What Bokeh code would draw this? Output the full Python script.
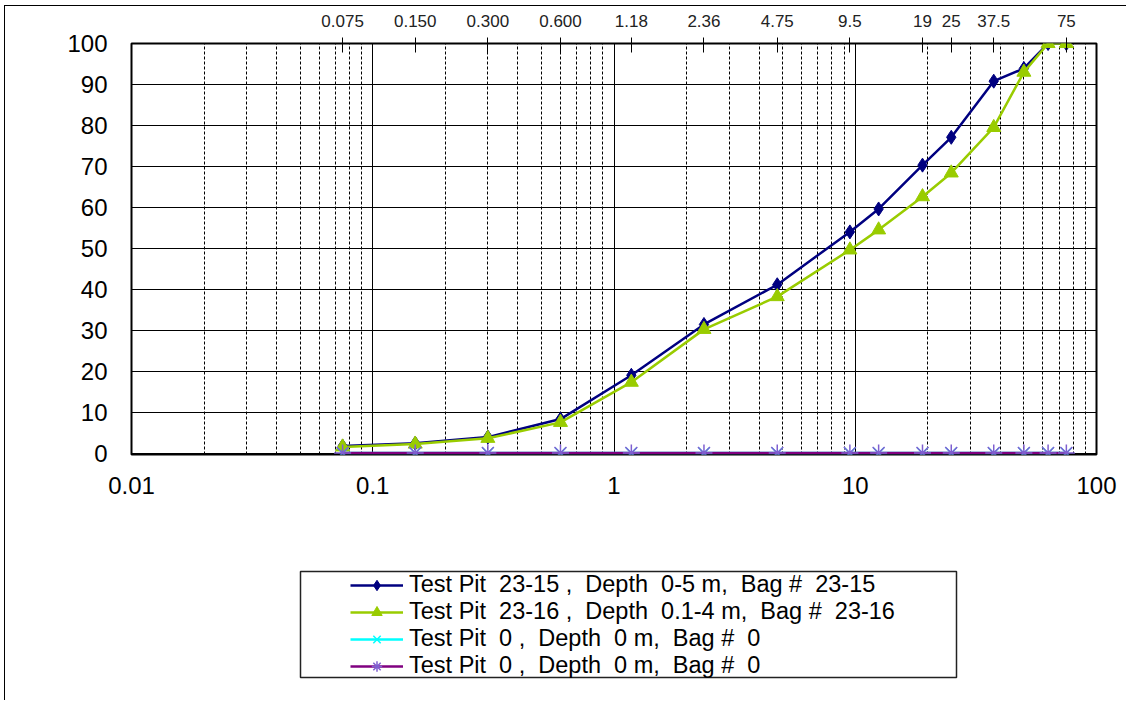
from bokeh.plotting import figure
from bokeh.layouts import column
from bokeh.models import (LogAxis, FixedTicker, Range1d, Legend, LegendItem,
                          CustomJSTickFormatter, BoxAnnotation)
from bokeh.embed import file_html
from bokeh.resources import INLINE

# ---- data -------------------------------------------------------------
sizes = [0.075, 0.15, 0.3, 0.6, 1.18, 2.36, 4.75, 9.5, 12.5, 19, 25, 37.5, 50, 63, 75]
tp_23_15 = [1.7, 2.4, 3.9, 8.3, 19.0, 31.4, 41.1, 54.0, 59.6, 70.3, 77.1, 90.8, 93.9, 100, 100]
tp_23_16 = [1.5, 2.2, 3.6, 7.5, 17.3, 30.2, 38.2, 49.6, 54.5, 62.6, 68.4, 79.5, 93.0, 100, 100]
tp_0_a = [0, 0, 0, 0, 0, 0, 0, 0, 0, 0, 0, 0, 0, 0, 0]
tp_0_b = [0, 0, 0, 0, 0, 0, 0, 0, 0, 0, 0, 0, 0, 0, 0]

series_labels = [
    "Test Pit  23-15 ,  Depth  0-5 m,  Bag #  23-15",
    "Test Pit  23-16 ,  Depth  0.1-4 m,  Bag #  23-16",
    "Test Pit  0 ,  Depth  0 m,  Bag #  0",
    "Test Pit  0 ,  Depth  0 m,  Bag #  0",
]
series_colors = ["#000080", "#99CC00", "#00FFFF", "#800080"]
marker_colors = ["#000080", "#99CC00", "#00FFFF", "#7F5FD0"]
series_markers = ["diamond", "triangle", "x", "asterisk"]

top_ticks = [0.075, 0.15, 0.3, 0.6, 1.18, 2.36, 4.75, 9.5, 19, 25, 37.5, 75]
top_tick_labels = ["0.075", "0.150", "0.300", "0.600", "1.18", "2.36", "4.75",
                   "9.5", "19", "25", "37.5", "75"]
bottom_ticks = [0.01, 0.1, 1, 10, 100]
bottom_tick_labels = ["0.01", "0.1", "1", "10", "100"]
y_ticks = [0, 10, 20, 30, 40, 50, 60, 70, 80, 90, 100]

FONT = "Liberation Sans"
series_values = [tp_23_15, tp_23_16, tp_0_a, tp_0_b]
marker_sizes = [14, 14, 15, 17]

# ---- main chart -------------------------------------------------------------
W = 1121
H1 = 554
BL, BR = 126, 30
p = figure(width=W, height=H1, x_axis_type="log",
           x_range=Range1d(0.01, 100), y_range=Range1d(-0.35, 100),
           output_backend="svg", toolbar_location=None,
           min_border_left=BL, min_border_right=BR,
           min_border_top=37, min_border_bottom=106)
p.background_fill_color = "white"
p.border_fill_color = "white"
p.outline_line_color = "black"
p.outline_line_width = 2

minor = []
for d in [0.01, 0.1, 1, 10]:
    for k in range(2, 10):
        minor.append(d * k)

lookup_code = """
for (let i = 0; i < vals.length; i++) {
  if (Math.abs(Math.log(vals[i]) - Math.log(tick)) < 1e-6) return labs[i];
}
return '';
"""

xa = p.below[0]
xa.ticker = FixedTicker(ticks=bottom_ticks, minor_ticks=minor)
xa.formatter = CustomJSTickFormatter(args=dict(vals=bottom_ticks, labs=bottom_tick_labels),
                                     code=lookup_code)
xa.major_tick_out = 0
xa.major_tick_in = 0
xa.minor_tick_out = 0
xa.minor_tick_in = 0
xa.axis_line_color = None
xa.major_label_standoff = 22
xa.major_label_text_font = FONT
xa.major_label_text_font_size = "24px"
xa.major_label_text_color = "black"

ya = p.left[0]
ya.ticker = FixedTicker(ticks=y_ticks)
ya.major_tick_out = 0
ya.major_tick_in = 0
ya.minor_tick_out = 0
ya.minor_tick_in = 0
ya.axis_line_color = None
ya.major_label_standoff = 24
ya.major_label_text_font = FONT
ya.major_label_text_font_size = "24px"
ya.major_label_text_color = "black"

ta = LogAxis(ticker=FixedTicker(ticks=top_ticks),
             formatter=CustomJSTickFormatter(args=dict(vals=top_ticks, labs=top_tick_labels),
                                             code=lookup_code))
ta.axis_line_color = None
ta.major_tick_out = 6
ta.major_tick_in = 9
ta.major_tick_line_color = "black"
ta.minor_tick_out = 0
ta.minor_tick_in = 0
ta.major_label_standoff = 11
ta.major_label_text_font = FONT
ta.major_label_text_font_size = "17px"
ta.major_label_text_color = "#222222"
p.add_layout(ta, "above")

p.xgrid.grid_line_color = "black"
p.xgrid.grid_line_width = 1
p.xgrid.minor_grid_line_color = "black"
p.xgrid.minor_grid_line_width = 1
p.xgrid.minor_grid_line_dash = "3 2"
p.ygrid.ticker = FixedTicker(ticks=y_ticks)
p.ygrid.grid_line_color = "black"
p.ygrid.grid_line_width = 1


def add_series(fig, vals, c, mc, mk, ms):
    lr = fig.line(sizes, vals, line_color=c, line_width=2.5)
    if mk in ("x", "asterisk"):
        sr = fig.scatter(sizes, vals, marker=mk, size=ms, line_color=mc, line_width=1.5)
    else:
        sr = fig.scatter(sizes, vals, marker=mk, size=ms, fill_color=mc, line_color=mc)
    return lr, sr


for vals, c, mc, mk, ms in zip(series_values, series_colors, marker_colors,
                               series_markers, marker_sizes):
    add_series(p, vals, c, mc, mk, ms)

# ---- legend panel (same series, ranges keep the marks out of view) ----------
H2 = 140
q = figure(width=W, height=H2, x_range=Range1d(1000, 2000), y_range=Range1d(1000, 2000),
           output_backend="svg", toolbar_location=None,
           x_axis_location=None, y_axis_location=None,
           min_border_left=BL, min_border_right=BR,
           min_border_top=0, min_border_bottom=0)
q.grid.visible = False
q.background_fill_color = "white"
q.border_fill_color = "white"
q.outline_line_color = None

items = []
for lab, vals, c, mc, mk, ms in zip(series_labels, series_values, series_colors,
                                    marker_colors, series_markers, marker_sizes):
    lr, sr = add_series(q, vals, c, mc, mk, ms)
    items.append(LegendItem(label=lab, renderers=[lr, sr]))

legend = Legend(items=items, location=(219, 21))
legend.border_line_color = None
legend.background_fill_alpha = 0
legend.padding = 0
legend.margin = 0
legend.spacing = 0
legend.glyph_width = 53
legend.glyph_height = 26
legend.label_height = 26
legend.label_standoff = 6
legend.label_text_font = FONT
legend.label_text_font_size = "23.5px"
legend.label_text_color = "black"
q.add_layout(legend)

q.add_layout(BoxAnnotation(left=295, right=951, top=11, bottom=117,
                           left_units="canvas", right_units="canvas",
                           top_units="canvas", bottom_units="canvas",
                           fill_alpha=0, line_color="#222222", line_alpha=1.0,
                           line_width=1.5))

layout = column(p, q, spacing=0)
layout.styles = {"margin-left": "4px", "margin-top": "5px",
                 "border-left": "1px solid black", "border-top": "1px solid black"}
open("out.html", "w").write(file_html(layout, INLINE))
